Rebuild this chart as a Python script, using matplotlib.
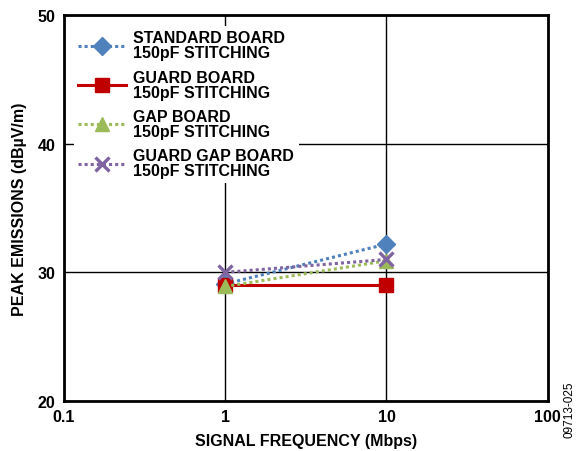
import matplotlib
matplotlib.use("Agg")
import matplotlib.pyplot as plt
from matplotlib.ticker import FixedLocator, NullLocator

plt.rcParams['font.family'] = ['Liberation Sans', 'DejaVu Sans']

freq = [1, 10]
standard = [29.1, 32.2]
guard = [29.0, 29.0]
gap = [28.9, 30.9]
guard_gap = [30.0, 31.0]

x_ticks = [0.1, 1, 10, 100]
x_labels = ["0.1", "1", "10", "100"]
y_ticks = [20, 30, 40, 50]

fig = plt.figure(figsize=(5.76, 4.52), dpi=100)
ax = fig.add_axes([0.111, 0.1106, 0.840, 0.854])

ax.plot(freq, standard, color='#4f81bd', ls=(0, (1, 1)), lw=2.2, marker='D', ms=9.5,
        label='STANDARD BOARD\n150pF STITCHING')
ax.plot(freq, guard, color='#c00000', ls='-', lw=2.2, marker='s', ms=9.5,
        label='GUARD BOARD\n150pF STITCHING')
ax.plot(freq, gap, color='#9bbb59', ls=(0, (1, 1)), lw=2.2, marker='^', ms=10.5,
        label='GAP BOARD\n150pF STITCHING')
ax.plot(freq, guard_gap, color='#8064a2', ls=(0, (1, 1)), lw=2.2, marker='x', ms=9.5, mew=2.4,
        label='GUARD GAP BOARD\n150pF STITCHING')

ax.set_xscale('log')
ax.set_xlim(0.1, 100)
ax.set_ylim(20, 50)
ax.xaxis.set_major_locator(FixedLocator(x_ticks))
ax.xaxis.set_minor_locator(NullLocator())
ax.set_xticks(x_ticks)
ax.set_xticklabels(x_labels)
ax.set_yticks(y_ticks)
ax.grid(True, color='black', lw=1.0)
ax.tick_params(length=0, pad=6, labelsize=11.5)
for lbl in ax.get_xticklabels() + ax.get_yticklabels():
    lbl.set_fontweight('bold')
for sp in ax.spines.values():
    sp.set_linewidth(2)

ax.set_xlabel('SIGNAL FREQUENCY (Mbps)', fontsize=11.5, fontweight='bold', labelpad=6)
ax.set_ylabel('PEAK EMISSIONS (dBµV/m)', fontsize=11.5, fontweight='bold', labelpad=8)

leg = ax.legend(loc='upper left', bbox_to_anchor=(0.01, 0.985), frameon=True,
                prop={'weight': 'bold', 'size': 11.5},
                handlelength=3.0, labelspacing=0.58, borderaxespad=0.3,
                handletextpad=0.45, borderpad=0.3)
leg.get_frame().set_facecolor('white')
leg.get_frame().set_edgecolor('none')
leg.get_frame().set_alpha(1.0)
leg.get_frame().set_boxstyle('square', pad=0.0)
for t in leg.get_texts():
    t.set_linespacing(1.0)

fig.text(0.989, 0.093, '09713-025', rotation=90, fontsize=8.5, ha='center', va='center')

fig.savefig('out.png', dpi=100)
